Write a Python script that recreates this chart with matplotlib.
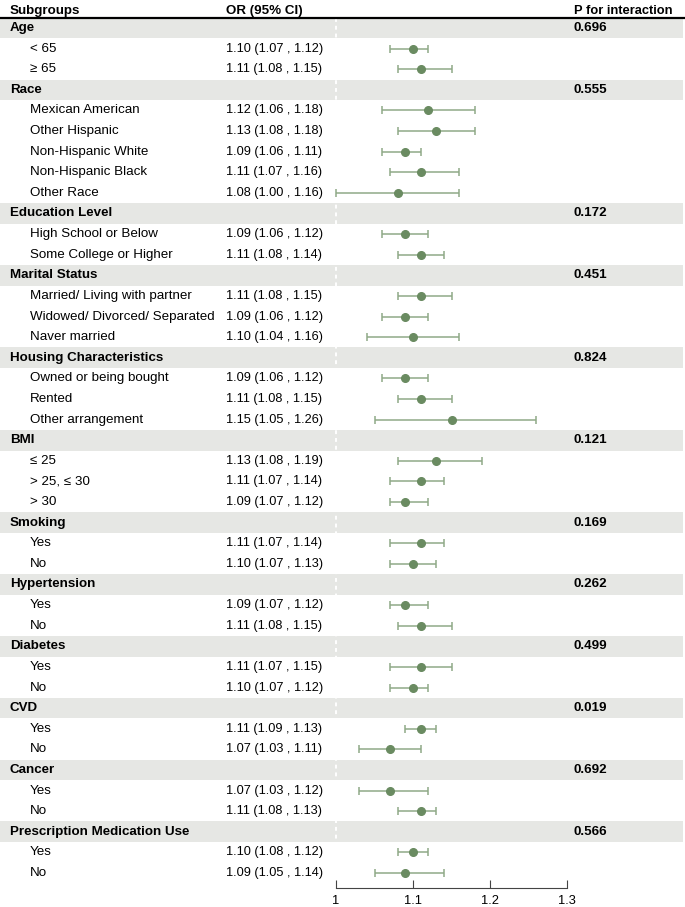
import matplotlib
matplotlib.use("Agg")
import matplotlib.pyplot as plt
import matplotlib.transforms as mtransforms

plt.rcParams['font.family'] = ['Liberation Sans', 'DejaVu Sans']

# data
groups = ["Age", "Race", "Education Level", "Marital Status", "Housing Characteristics",
          "BMI", "Smoking", "Hypertension", "Diabetes", "CVD", "Cancer",
          "Prescription Medication Use"]
p_inter = ["0.696", "0.555", "0.172", "0.451", "0.824", "0.121", "0.169", "0.262",
           "0.499", "0.019", "0.692", "0.566"]
sub_labels = [
    ["< 65", "\u2265 65"],
    ["Mexican American", "Other Hispanic", "Non-Hispanic White", "Non-Hispanic Black", "Other Race"],
    ["High School or Below", "Some College or Higher"],
    ["Married/ Living with partner", "Widowed/ Divorced/ Separated", "Naver married"],
    ["Owned or being bought", "Rented", "Other arrangement"],
    ["\u2264 25", "> 25, \u2264 30", "> 30"],
    ["Yes", "No"], ["Yes", "No"], ["Yes", "No"], ["Yes", "No"], ["Yes", "No"], ["Yes", "No"],
]
or_est = [[1.10, 1.11], [1.12, 1.13, 1.09, 1.11, 1.08], [1.09, 1.11], [1.11, 1.09, 1.10],
          [1.09, 1.11, 1.15], [1.13, 1.11, 1.09], [1.11, 1.10], [1.09, 1.11], [1.11, 1.10],
          [1.11, 1.07], [1.07, 1.11], [1.10, 1.09]]
or_lo = [[1.07, 1.08], [1.06, 1.08, 1.06, 1.07, 1.00], [1.06, 1.08], [1.08, 1.06, 1.04],
         [1.06, 1.08, 1.05], [1.08, 1.07, 1.07], [1.07, 1.07], [1.07, 1.08], [1.07, 1.07],
         [1.09, 1.03], [1.03, 1.08], [1.08, 1.05]]
or_hi = [[1.12, 1.15], [1.18, 1.18, 1.11, 1.16, 1.16], [1.12, 1.14], [1.15, 1.12, 1.16],
         [1.12, 1.15, 1.26], [1.19, 1.14, 1.12], [1.14, 1.13], [1.12, 1.15], [1.15, 1.12],
         [1.13, 1.11], [1.12, 1.13], [1.12, 1.14]]
ticks = [1, 1.1, 1.2, 1.3]

W, H = 685, 907
fig = plt.figure(figsize=(W / 100, H / 100), dpi=100)

row0 = 28.0      # pixel y of first row
step = 20.61     # pixel row height
px_per_unit = 770.0
x1_px = 336.0

ax = fig.add_axes([0, 0, 1, 1])
ax.set_xlim(1 - x1_px / px_per_unit, 1 + (W - x1_px) / px_per_unit)
ax.set_ylim((H - row0) / step, -row0 / step)
ax.axis("off")

trans = mtransforms.blended_transform_factory(ax.transAxes, ax.transData)

band_col = "#e6e7e4"
pt_col = "#6a8b61"
ci_col = "#8fa987"
fs = 9.6
fs_num = 9.2

# header
hy = (10.5 - row0) / step
ax.text(10 / W, hy, "Subgroups", transform=trans, fontsize=fs, fontweight="bold", va="center")
ax.text(226 / W, hy, "OR (95% CI)", transform=trans, fontsize=fs, fontweight="bold", va="center")
ax.text(574 / W, hy, "P for interaction", transform=trans, fontsize=9.3, fontweight="bold", va="center")
ax.axhline((18 - row0) / step, color="black", lw=1.6)

r = 0
for g, grp in enumerate(groups):
    ax.axhspan(r - 0.5, r + 0.5, xmin=0, xmax=683 / W, color=band_col, lw=0, zorder=0)
    ax.text(10 / W, r, grp, transform=trans, fontsize=fs, fontweight="bold", va="center")
    ax.text(574 / W, r, p_inter[g], transform=trans, fontsize=fs, fontweight="bold", va="center")
    r += 1
    for k, lab in enumerate(sub_labels[g]):
        est, lo, hi = or_est[g][k], or_lo[g][k], or_hi[g][k]
        ax.text(30 / W, r, lab, transform=trans, fontsize=fs, va="center")
        ax.text(226 / W, r, f"{est:.2f} ({lo:.2f} , {hi:.2f})", transform=trans,
                fontsize=fs_num, va="center")
        ax.errorbar(est, r, xerr=[[est - lo], [hi - est]], fmt="none", ecolor=ci_col,
                    elinewidth=1.1, capsize=3, capthick=1.1, zorder=3)
        ax.plot(est, r, "o", color=pt_col, markersize=5.5, zorder=4)
        r += 1

# white dotted reference line at OR = 1
ax.plot([1, 1], [-0.5, r - 0.5], color="white", lw=1.4, ls=(0, (2, 2)), zorder=1)

# x axis
axis_y_px = 888
bx = fig.add_axes([x1_px / W, (H - axis_y_px) / H, (ticks[-1] - 1) * px_per_unit / W, 0.02])
bx.set_xlim(ticks[0], ticks[-1])
bx.set_xticks(ticks)
bx.set_xticklabels(["1", "1.1", "1.2", "1.3"])
bx.set_yticks([])
bx.patch.set_visible(False)
for s in ["top", "left", "right"]:
    bx.spines[s].set_visible(False)
bx.spines["bottom"].set_color("#444444")
bx.spines["bottom"].set_linewidth(0.8)
bx.tick_params(axis="x", direction="in", length=6, width=0.8, color="#444444",
               labelsize=9.3, pad=5)

fig.savefig("out.png", dpi=100)
